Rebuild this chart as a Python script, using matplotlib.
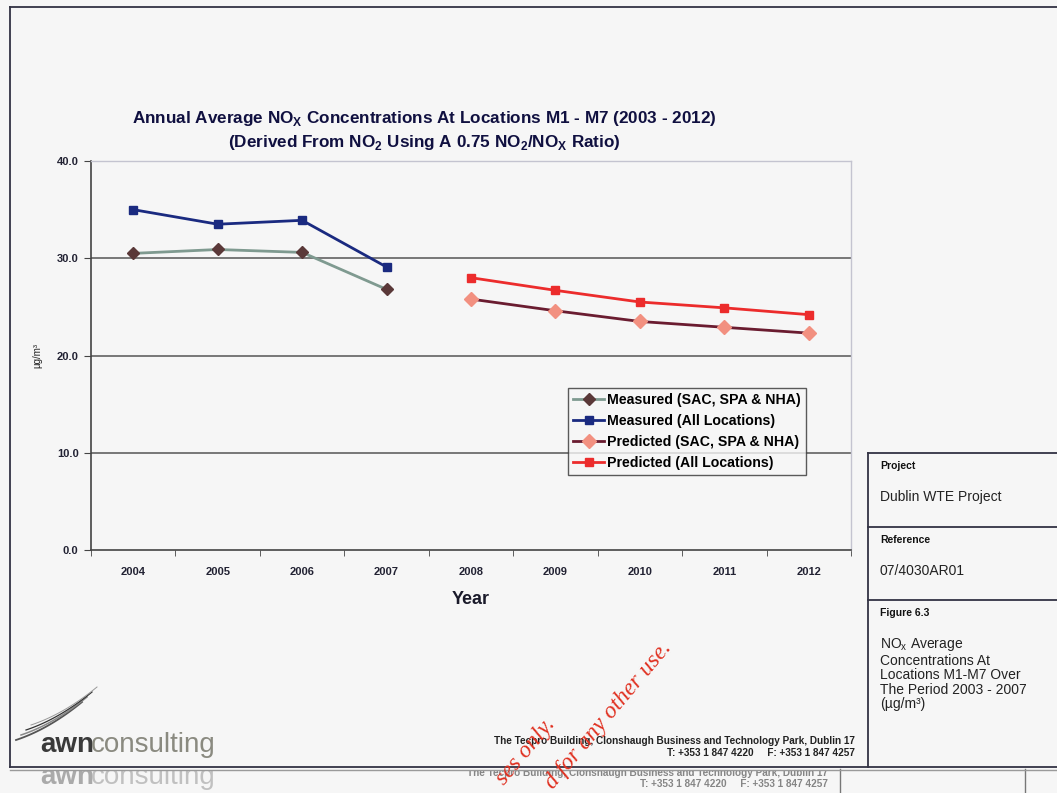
import numpy as np
import matplotlib
matplotlib.use("Agg")
import matplotlib.pyplot as plt
from matplotlib.ticker import FixedLocator, NullFormatter

# annual average NOx (ug/m3)
years = ['2004', '2005', '2006', '2007', '2008', '2009', '2010', '2011', '2012']
measured_years = ['2004', '2005', '2006', '2007']
predicted_years = ['2008', '2009', '2010', '2011', '2012']
measured_sac = [30.5, 30.9, 30.6, 26.8]
measured_all = [35.0, 33.5, 33.9, 29.1]
predicted_sac = [25.8, 24.6, 23.5, 22.9, 22.3]
predicted_all = [28.0, 26.7, 25.5, 24.9, 24.2]
yticks = [0.0, 10.0, 20.0, 30.0, 40.0]

narrow = ['Liberation Sans Narrow', 'DejaVu Sans Condensed', 'Liberation Sans', 'DejaVu Sans']
arial = ['Liberation Sans', 'DejaVu Sans']
plt.rcParams['font.family'] = arial

W, H = 1057, 793
bg = '#f6f6f6'
fig = plt.figure(figsize=(W / 100, H / 100), dpi=100, facecolor=bg)

ax = fig.add_axes([91 / W, 1 - 550 / H, 760 / W, 389 / H], facecolor=bg)
xi = {y: i for i, y in enumerate(years)}
mx = [xi[y] for y in measured_years]
px = [xi[y] for y in predicted_years]

ax.plot(mx, measured_sac, color='#7f9a90', lw=2, marker='D', ms=6,
        mfc='#5a3838', mec='#5a3838', label='Measured (SAC, SPA & NHA)', zorder=3)
ax.plot(mx, measured_all, color='#1a2a80', lw=2, marker='s', ms=6,
        mfc='#1a2a80', mec='#1a2a80', label='Measured (All Locations)', zorder=3)
ax.plot(px, predicted_sac, color='#6a1c30', lw=2, marker='D', ms=7,
        mfc='#f29080', mec='#f29080', label='Predicted (SAC, SPA & NHA)', zorder=3)
ax.plot(px, predicted_all, color='#ec2c2c', lw=2, marker='s', ms=6,
        mfc='#ec2c2c', mec='#ec2c2c', label='Predicted (All Locations)', zorder=3)

ax.set_xlim(-0.5, len(years) - 0.5)
ax.set_ylim(0, 40)
ax.set_yticks(yticks)
ax.set_yticklabels([f'{v:.1f}' for v in yticks], fontweight='bold', fontsize=8,
                   color='#222233')
ax.set_xticks(range(len(years)))
ax.set_xticklabels(years, fontweight='bold', fontsize=8, color='#222233')
ax.tick_params(axis='x', which='major', length=0, pad=12)
ax.xaxis.set_minor_locator(FixedLocator(np.arange(-0.5, len(years), 1.0)))
ax.xaxis.set_minor_formatter(NullFormatter())
ax.tick_params(axis='x', which='minor', length=4, color='#444444', direction='out')
ax.tick_params(axis='y', length=5, color='#444444', direction='out', pad=4)
for v in yticks[1:-1]:
    ax.axhline(v, color='#555555', lw=1.1, zorder=1)
for side in ['left', 'bottom']:
    ax.spines[side].set_color('#444444')
    ax.spines[side].set_linewidth(1.2)
for side in ['top', 'right']:
    ax.spines[side].set_color('#c4c4d0')
    ax.spines[side].set_linewidth(1.0)

ax.set_xlabel('Year', fontsize=13, fontweight='bold', color='#1a1a2a', labelpad=10)
ax.set_ylabel('µg/m³', fontsize=7, color='#222222', labelpad=10)

leg = ax.legend(loc='upper left', bbox_to_anchor=(568 / W, 1 - 388 / H),
                bbox_transform=fig.transFigure, borderaxespad=0, frameon=True,
                fancybox=False, handlelength=2.2, handletextpad=0.2, borderpad=0.35,
                labelspacing=0.5, prop={'weight': 'bold', 'size': 10.2})
leg.get_frame().set_edgecolor('#333333')
leg.get_frame().set_facecolor(bg)
leg.get_frame().set_linewidth(1.0)

# page furniture drawn in pixel coordinates
pg = fig.add_axes([0, 0, 1, 1], facecolor='none', zorder=5)
pg.set_xlim(0, W)
pg.set_ylim(H, 0)
pg.axis('off')

ln = dict(color='#333344', lw=1.3)
pg.plot([10, W], [7, 7], **ln)
pg.plot([10, 10], [7, 767], **ln)
pg.plot([10, W], [767, 767], **ln)
pg.plot([868, 868], [453, 767], **ln)
for yy in [453, 527, 600]:
    pg.plot([868, W], [yy, yy], **ln)
pg.plot([840, 840], [769, H], color='#777777', lw=1)
pg.plot([1025, 1025], [769, H], color='#777777', lw=1)
pg.plot([10, W], [770, 770], color='#9a9a9a', lw=1)

pg.text(424, 119, 'Annual Average NO$_\\mathregular{X}$ Concentrations At Locations M1 - M7 (2003 - 2012)',
        ha='center', va='center', fontsize=12.3, fontweight='bold', color='#101040',
        family=narrow)
pg.text(424, 143, '(Derived From NO$_\\mathregular{2}$ Using A 0.75 NO$_\\mathregular{2}$/NO$_\\mathregular{X}$ Ratio)',
        ha='center', va='center', fontsize=12.3, fontweight='bold', color='#101040',
        family=narrow)

pg.text(880, 466, 'Project', fontsize=7.5, fontweight='bold', va='center', color='#111111')
pg.text(880, 497, 'Dublin WTE Project', fontsize=10, va='center', color='#222222')
pg.text(880, 540, 'Reference', fontsize=7.5, fontweight='bold', va='center', color='#111111')
pg.text(880, 571, '07/4030AR01', fontsize=10, va='center', color='#222222')
pg.text(880, 613, 'Figure 6.3', fontsize=7.5, fontweight='bold', va='center', color='#111111')
pg.text(880, 636, 'NO$_\\mathregular{x}$ Average\nConcentrations At\nLocations M1-M7 Over\n'
        'The Period 2003 - 2007\n(µg/m³)',
        fontsize=10, va='top', color='#222222', linespacing=1.05)

# logo
for k, c in enumerate(['#555555', '#888888', '#333333', '#999999']):
    t = np.linspace(0, 1, 30)
    xs = 16 + 66 * t + k * 5
    ys = 740 - 38 * t + 16 * t * (1 - t) - k * 5
    pg.plot(xs, ys, color=c, lw=1.3 - 0.2 * k)
pg.text(40, 752, 'awn', fontsize=20, fontweight='bold', color='#3a3a3a', family=narrow)
pg.text(91, 752, 'consulting', fontsize=20, color='#8a8a80', family=narrow)

addr = 'The Tecpro Building, Clonshaugh Business and Technology Park, Dublin 17'
tel = 'T: +353 1 847 4220     F: +353 1 847 4257'
pg.text(855, 741, addr, ha='right', va='center', fontsize=7.2, fontweight='bold',
        color='#222222', family=narrow)
pg.text(855, 753, tel, ha='right', va='center', fontsize=7.2, fontweight='bold',
        color='#222222', family=narrow)

# faded repeat of the footer below the frame, clipped to the strip
gh = fig.add_axes([0, 0, 1, 23 / H], facecolor='none', zorder=4)
gh.set_xlim(0, W)
gh.set_ylim(H, 770)
gh.axis('off')
gh.text(40, 784, 'awn', fontsize=20, fontweight='bold', color='#8a8a8a', family=narrow,
        alpha=0.7, clip_on=True)
gh.text(91, 784, 'consulting', fontsize=20, color='#aaaaaa', family=narrow,
        alpha=0.7, clip_on=True)
gh.text(828, 773, addr, ha='right', va='center', fontsize=7.2, fontweight='bold',
        color='#555555', family=narrow, alpha=0.7, clip_on=True)
gh.text(828, 784, tel, ha='right', va='center', fontsize=7.2, fontweight='bold',
        color='#555555', family=narrow, alpha=0.7, clip_on=True)

# watermark
wm = dict(rotation=50, rotation_mode='anchor', ha='right', va='baseline',
          fontsize=17, color='#e03020', family=['Liberation Serif', 'DejaVu Serif'],
          style='italic')
pg.text(556, 724, 'ses only.', **wm)
pg.text(672, 648, 'd for any other use.', **wm)

fig.savefig('out.png', dpi=100, facecolor=bg)
